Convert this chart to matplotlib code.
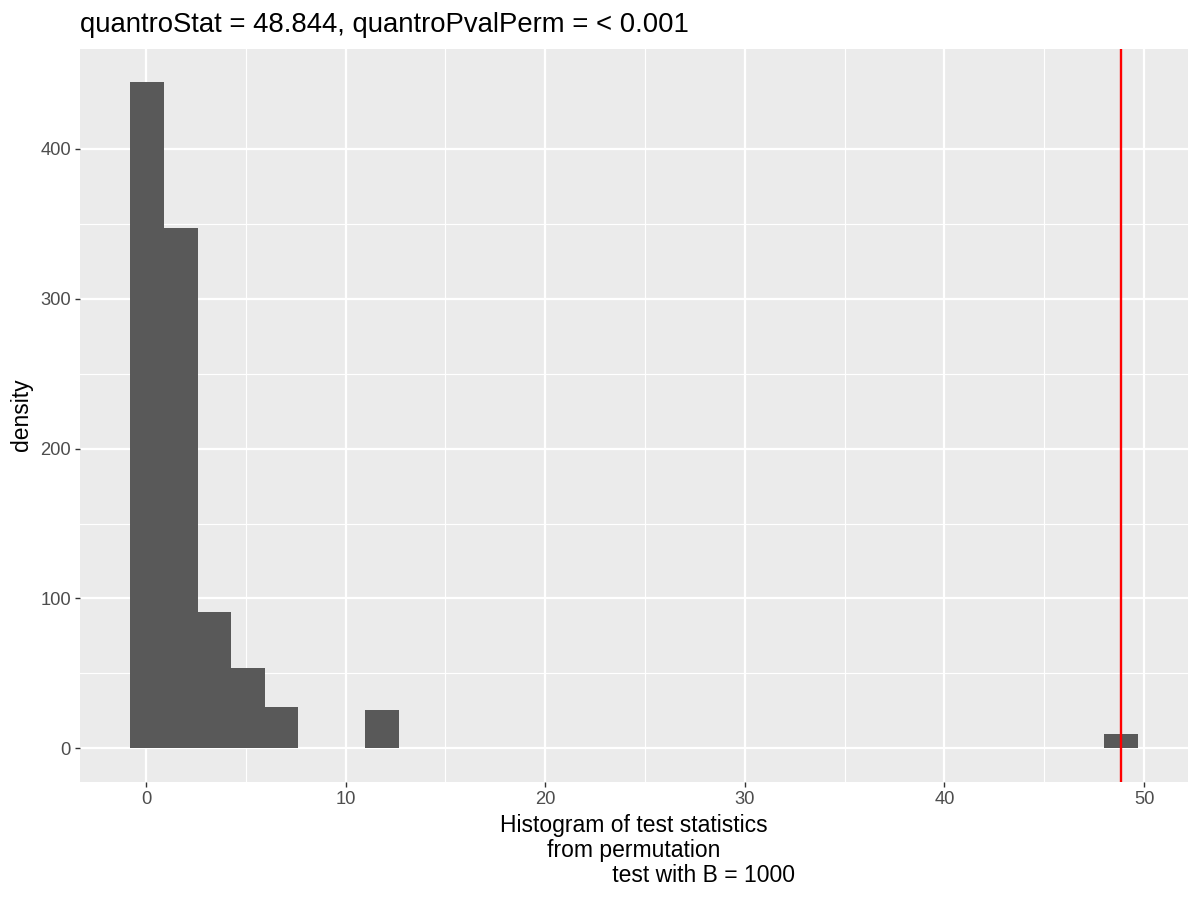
import matplotlib
matplotlib.use("Agg")
import matplotlib.pyplot as plt
import numpy as np

# ---- data ----
bin_start = -0.78          # left edge of first bin
bin_width = 1.682          # width of every bin (30 bins)
density = [444.5, 347.1, 91.1, 53.8, 27.8, 0, 0, 25.8, 0, 0,
           0, 0, 0, 0, 0, 0, 0, 0, 0, 0,
           0, 0, 0, 0, 0, 0, 0, 0, 0, 9.8]
quantro_stat = 48.844
x_ticks = [0, 10, 20, 30, 40, 50]
x_minor = [5, 15, 25, 35, 45]
y_ticks = [0, 100, 200, 300, 400]
y_minor = [50, 150, 250, 350]
title = "quantroStat = 48.844, quantroPvalPerm = < 0.001"
xlabel = "Histogram of test statistics\nfrom permutation\n                      test with B = 1000"
ylabel = "density"

plt.rcParams['font.family'] = ['Liberation Sans', 'DejaVu Sans']

W, H = 1200, 900
fig = plt.figure(figsize=(12, 9), dpi=100)
fig.patch.set_facecolor('white')

left, right, top, bottom = 80, 1188, 48.7, 781.7
ax = fig.add_axes([left / W, (H - bottom) / H, (right - left) / W, (bottom - top) / H])
ax.set_facecolor('#EBEBEB')

edges = bin_start + bin_width * np.arange(len(density) + 1)
ax.bar(edges[:-1], density, width=bin_width, align='edge',
       color='#595959', linewidth=0, zorder=3)
ax.axvline(quantro_stat, color='red', linewidth=1.7, zorder=4)

# ggplot-like expansion
xmin = min(edges[0], quantro_stat)
xmax = max(edges[-1], quantro_stat)
xp = 0.05 * (xmax - xmin)
ax.set_xlim(xmin - xp, xmax + xp)
ymax = max(density)
yp = 0.05 * ymax
ax.set_ylim(-yp, ymax + yp)

ax.set_xticks(x_ticks)
ax.set_xticks(x_minor, minor=True)
ax.set_yticks(y_ticks)
ax.set_yticks(y_minor, minor=True)
ax.grid(which='major', color='white', linewidth=1.6, zorder=1)
ax.grid(which='minor', color='white', linewidth=0.8, zorder=1)
ax.set_axisbelow(True)
for s in ax.spines.values():
    s.set_visible(False)
ax.tick_params(which='major', length=3.5, width=1.0, color='#333333',
               labelsize=13.2, labelcolor='#4D4D4D', pad=3)
ax.tick_params(which='minor', length=0)

fig.text(left / W, 1 - 32 / H, title, fontsize=19.8, color='black',
         ha='left', va='baseline')
fig.text((left + right) / 2 / W, 1 - 814 / H, xlabel, fontsize=16.5,
         ha='center', va='top', multialignment='center', linespacing=1.1)
fig.text(22 / W, 1 - 415 / H, ylabel, fontsize=16.5, rotation=90,
         ha='center', va='center')

fig.savefig('out.png', dpi=100)
